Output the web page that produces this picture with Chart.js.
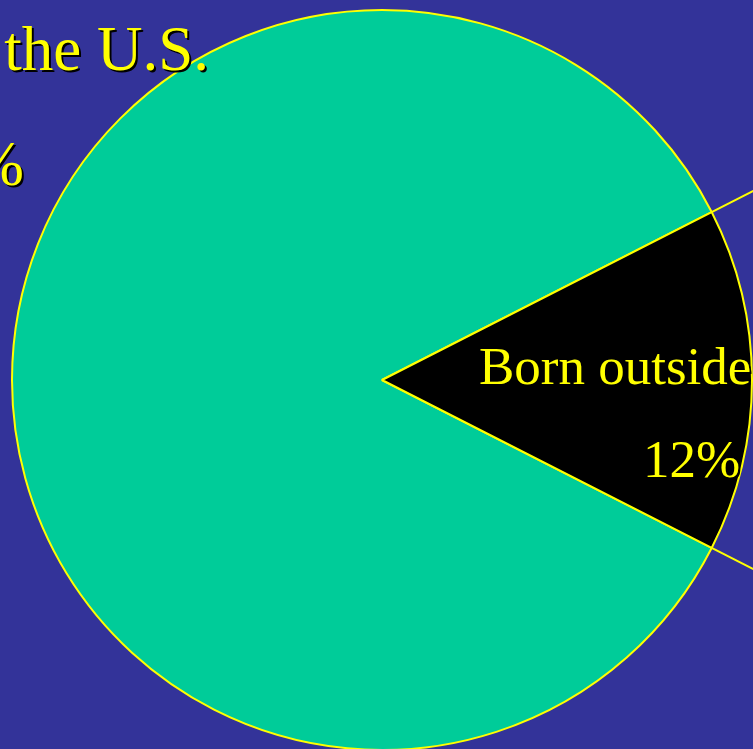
<!DOCTYPE html>
<html>
<head>
<meta charset="utf-8">
<script src="https://cdn.jsdelivr.net/npm/chart.js@4/dist/chart.umd.min.js"></script>
<style>
  html, body { margin: 0; padding: 0; width: 753px; height: 749px; overflow: hidden; background: #333399; }
  /* the slide is wider than the window: the left label runs off the edge */
  #wrap { position: absolute; left: -300px; top: 0; width: 1100px; height: 800px; }
</style>
</head>
<body>
<div id="wrap"><canvas id="pieChart" width="1100" height="800"></canvas></div>
<script>
// Born in vs outside the U.S.
var categories = ["Born in the U.S.", "Born outside the U.S."];
var percentLabels = ["88%", "12%"];
// share of the circle each slice takes in the picture
var sliceShares = [85, 15];
var sliceColors = ["#00CC99", "#000000"];

var yellow = "#FFFF00";
var shift = 300; // canvas x of the window's left edge

// lines running out from the edges of the small slice
var leaderLines = {
  id: "leaderLines",
  afterDatasetsDraw: function (chart) {
    var arc = chart.getDatasetMeta(0).data[1];
    var ctx = chart.ctx;
    ctx.save();
    ctx.strokeStyle = yellow;
    ctx.lineWidth = 2;
    [arc.startAngle, arc.endAngle].forEach(function (a) {
      ctx.beginPath();
      ctx.moveTo(arc.x + Math.cos(a) * arc.outerRadius, arc.y + Math.sin(a) * arc.outerRadius);
      ctx.lineTo(arc.x + Math.cos(a) * arc.outerRadius * 1.6, arc.y + Math.sin(a) * arc.outerRadius * 1.6);
      ctx.stroke();
    });
    ctx.restore();
  }
};

var sliceText = {
  id: "sliceText",
  afterDraw: function (chart) {
    var ctx = chart.ctx;
    ctx.save();
    ctx.fillStyle = yellow;
    ctx.shadowColor = "#000000";
    ctx.shadowOffsetX = 2;
    ctx.shadowOffsetY = 2;
    ctx.shadowBlur = 0;
    ctx.textBaseline = "alphabetic";

    // left label, mostly off screen
    ctx.font = "63px 'Liberation Serif', 'Times New Roman', serif";
    ctx.textAlign = "right";
    ctx.fillText(categories[0], shift + 209, 70);
    ctx.fillText(percentLabels[0], shift + 24, 185);

    // label inside the black slice
    ctx.font = "53px 'Liberation Serif', 'Times New Roman', serif";
    ctx.textAlign = "left";
    ctx.fillText(categories[1], shift + 479, 384);
    ctx.fillText(percentLabels[1], shift + 643, 477);
    ctx.restore();
  }
};

new Chart(document.getElementById("pieChart").getContext("2d"), {
  type: "pie",
  data: {
    labels: categories,
    datasets: [{
      data: sliceShares,
      backgroundColor: sliceColors,
      borderColor: yellow,
      borderWidth: 2
    }]
  },
  options: {
    responsive: false,
    animation: false,
    rotation: 117,
    layout: {
      padding: { left: 311, top: 9, right: 47, bottom: 49 }
    },
    plugins: {
      legend: { display: false },
      tooltip: { enabled: false }
    }
  },
  plugins: [leaderLines, sliceText]
});
</script>
</body>
</html>
